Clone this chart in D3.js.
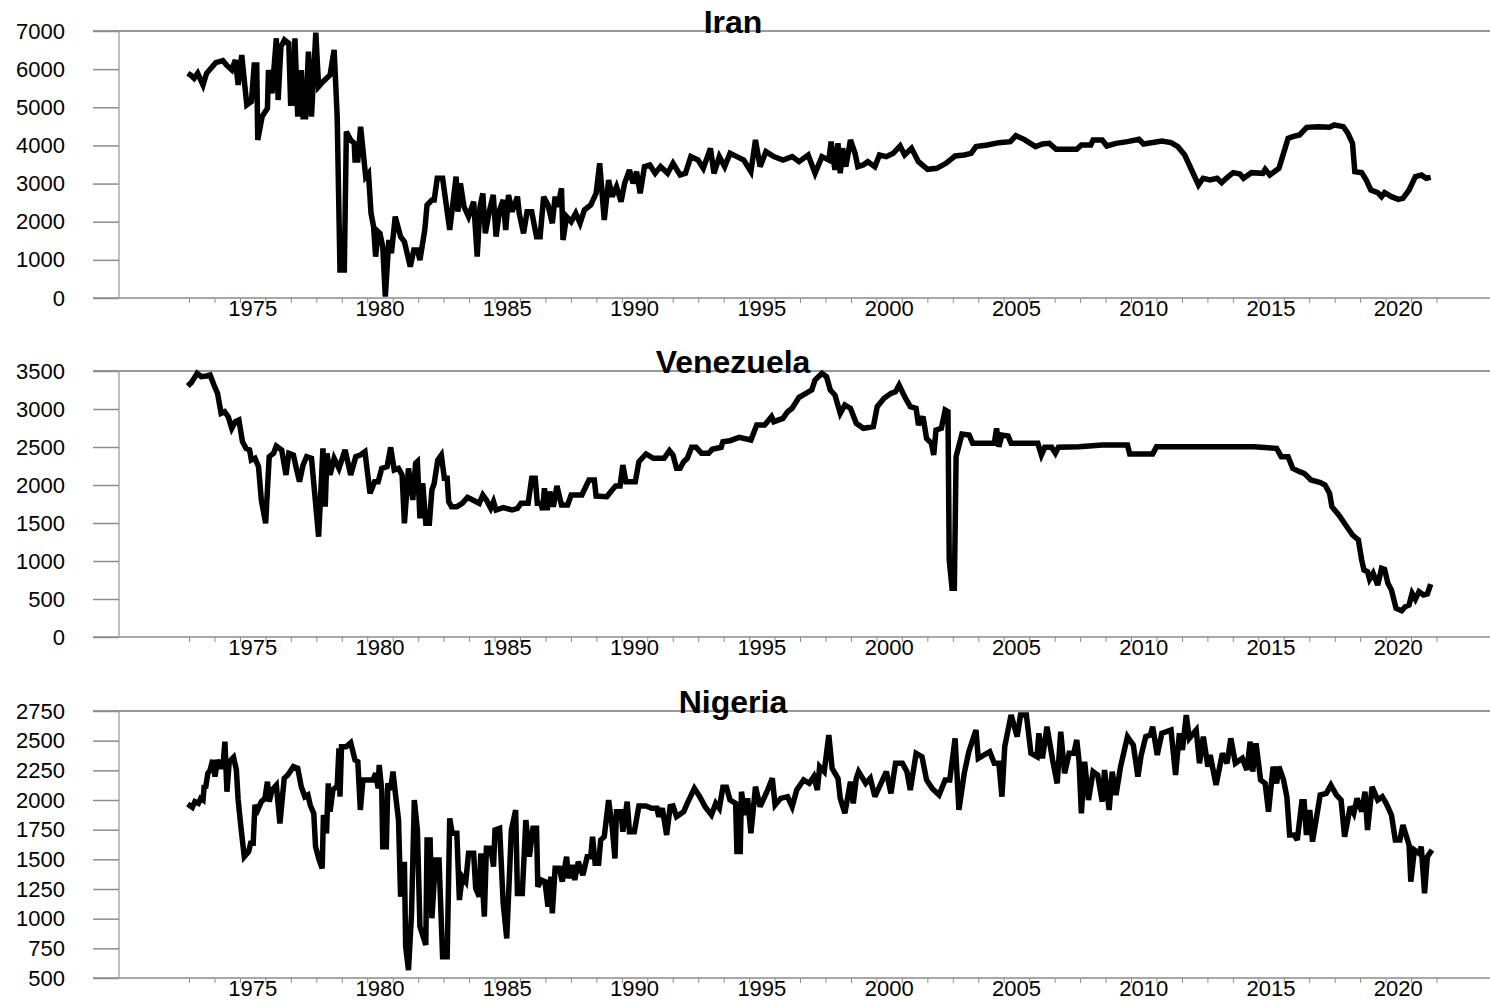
<!DOCTYPE html>
<html>
<head>
<meta charset="utf-8">
<script src="https://cdn.jsdelivr.net/npm/d3@7"></script>
<style>
  body { margin: 0; background: #fff; }
  text { font-family: "Liberation Sans", Arial, sans-serif; }
</style>
</head>
<body>
<svg id="chart" width="1490" height="1001"></svg>
<script>
// values: [decimal year, value]
var iran = [
 [1972.95,5891],[1973.06,5847],[1973.2,5760],[1973.34,5891],[1973.55,5585],[1973.69,5891],[1974.05,6170],
 [1974.33,6223],[1974.47,6109],[1974.68,5978],[1974.82,6240],[1974.93,5585],[1975.07,6371],[1975.27,5060],
 [1975.45,5148],[1975.56,6109],[1975.66,6109],[1975.7,4143],[1975.87,4755],[1976.08,4973],[1976.12,5978],
 [1976.26,5366],[1976.43,6808],[1976.5,5191],[1976.61,6590],[1976.75,6765],[1976.92,6677],[1976.99,5104],
 [1977.1,5104],[1977.16,6808],[1977.27,4755],[1977.41,5978],[1977.48,4755],[1977.58,4755],[1977.69,6459],
 [1977.81,4755],[1977.98,6957],[1978.09,5541],[1978.26,5672],[1978.54,5847],[1978.7,6503],[1978.82,4755],
 [1978.93,734],[1979.1,734],[1979.18,4361],[1979.35,4143],[1979.49,4055],[1979.52,3618],[1979.63,3618],
 [1979.74,4492],[1979.94,3181],[1980.05,3268],[1980.15,2220],[1980.25,1870],[1980.33,1084],[1980.43,1739],
 [1980.5,1696],[1980.61,1346],[1980.71,35],[1980.85,1521],[1980.95,1171],[1981.1,2133],[1981.31,1608],
 [1981.46,1477],[1981.69,822],[1981.83,1259],[1981.97,1259],[1982.07,996],[1982.26,1783],[1982.35,2438],
 [1982.54,2570],[1982.63,2570],[1982.75,3138],[1982.96,3138],[1983.24,1783],[1983.49,3181],[1983.56,2264],
 [1983.66,3006],[1983.8,2395],[1983.98,2133],[1984.18,2526],[1984.32,1084],[1984.43,2395],[1984.54,2744],
 [1984.64,1696],[1984.78,2220],[1984.95,2701],[1985.06,1608],[1985.2,2307],[1985.34,2570],[1985.44,1783],
 [1985.55,2701],[1985.69,2264],[1985.9,2657],[1985.97,2220],[1986.14,1696],[1986.28,2264],[1986.46,2264],
 [1986.65,1608],[1986.79,1608],[1986.93,2657],[1987.1,2438],[1987.27,1958],[1987.38,2657],[1987.49,2395],
 [1987.63,2875],[1987.69,1521],[1987.83,2133],[1988.01,2001],[1988.19,2220],[1988.36,1958],[1988.53,2307],
 [1988.78,2438],[1988.99,2744],[1989.13,3531],[1989.31,2045],[1989.48,3094],[1989.62,2657],[1989.79,2919],
 [1989.97,2526],[1990.11,3006],[1990.3,3356],[1990.44,3006],[1990.58,3312],[1990.72,2744],[1990.89,3444],
 [1991.1,3487],[1991.31,3268],[1991.52,3444],[1991.8,3268],[1992.01,3531],[1992.29,3225],[1992.5,3268],
 [1992.71,3706],[1992.99,3618],[1993.2,3400],[1993.48,3924],[1993.62,3268],[1993.83,3706],[1994.04,3444],
 [1994.25,3793],[1994.52,3706],[1994.79,3618],[1995.07,3312],[1995.25,4143],[1995.43,3444],[1995.66,3837],
 [1995.97,3706],[1996.33,3618],[1996.69,3706],[1996.96,3575],[1997.32,3749],[1997.59,3268],[1997.86,3706],
 [1998.13,3618],[1998.22,4099],[1998.37,3356],[1998.49,4055],[1998.58,3268],[1998.67,3924],[1998.8,3444],
 [1998.98,4143],[1999.16,3793],[1999.27,3444],[1999.48,3487],[1999.66,3575],[1999.94,3444],[2000.12,3749],
 [2000.39,3706],[2000.66,3793],[2000.93,3985],[2001.11,3749],[2001.38,3924],[2001.65,3575],[2002.01,3374],
 [2002.37,3400],[2002.73,3531],[2003.09,3723],[2003.45,3749],[2003.72,3793],[2003.91,3968],[2004.36,4012],
 [2004.81,4073],[2005.26,4099],[2005.48,4256],[2005.8,4160],[2006.25,3968],[2006.52,4038],[2006.79,4055],
 [2007.06,3898],[2007.87,3898],[2008.05,4012],[2008.42,4012],[2008.51,4143],[2008.87,4143],[2009.05,3985],
 [2009.41,4055],[2009.86,4099],[2010.31,4160],[2010.49,4038],[2011.21,4117],[2011.57,4073],[2011.84,3968],
 [2012.11,3749],[2012.29,3487],[2012.47,3225],[2012.65,2963],[2012.83,3138],[2013.1,3094],[2013.38,3138],
 [2013.56,3024],[2013.74,3138],[2014.01,3286],[2014.28,3251],[2014.42,3138],[2014.73,3286],[2015.18,3268],
 [2015.27,3374],[2015.45,3225],[2015.81,3400],[2015.99,3793],[2016.17,4186],[2016.35,4230],[2016.62,4274],
 [2016.9,4475],[2017.35,4492],[2017.8,4475],[2017.98,4536],[2018.34,4492],[2018.52,4318],[2018.7,4055],
 [2018.79,3312],[2019.06,3286],[2019.24,3094],[2019.42,2832],[2019.69,2762],[2019.84,2657],[2019.96,2762],
 [2020.23,2657],[2020.5,2587],[2020.68,2613],[2020.92,2832],[2021.17,3181],[2021.41,3225],[2021.59,3138],
 [2021.77,3164]
];

var venezuela = [
 [1972.95,3303],[1973.09,3347],[1973.32,3469],[1973.48,3425],[1973.69,3434],[1973.83,3447],[1973.98,3316],
 [1974.12,3206],[1974.26,2943],[1974.4,2965],[1974.54,2899],[1974.68,2746],[1974.82,2833],[1974.96,2855],
 [1975.1,2570],[1975.24,2482],[1975.38,2461],[1975.45,2329],[1975.59,2351],[1975.73,2241],[1975.84,1803],
 [1976.01,1496],[1976.15,2373],[1976.32,2417],[1976.43,2513],[1976.64,2461],[1976.81,2132],[1976.92,2417],
 [1977.1,2395],[1977.2,2241],[1977.34,2044],[1977.48,2263],[1977.62,2373],[1977.81,2351],[1977.9,2022],
 [1978.09,1320],[1978.26,2482],[1978.35,1715],[1978.42,2417],[1978.54,2132],[1978.7,2351],[1978.89,2219],
 [1979.13,2461],[1979.35,2132],[1979.55,2373],[1979.73,2395],[1979.91,2439],[1980.11,1890],[1980.29,2044],
 [1980.43,2044],[1980.57,2219],[1980.78,2241],[1980.92,2496],[1981.06,2197],[1981.23,2219],[1981.37,2132],
 [1981.46,1496],[1981.62,2219],[1981.79,1803],[1981.9,2285],[1981.97,2307],[1982.07,1561],[1982.18,2022],
 [1982.3,1496],[1982.44,1496],[1982.54,1934],[1982.63,2022],[1982.77,2329],[1982.91,2395],[1983.03,2088],
 [1983.14,2088],[1983.2,1781],[1983.31,1715],[1983.52,1715],[1983.73,1759],[1983.94,1838],[1984.15,1803],
 [1984.4,1759],[1984.54,1868],[1984.68,1803],[1984.85,1693],[1984.96,1781],[1985.06,1671],[1985.34,1702],
 [1985.69,1671],[1985.9,1693],[1986.04,1759],[1986.32,1759],[1986.46,2088],[1986.6,2088],[1986.68,1759],
 [1986.82,1759],[1986.89,1671],[1986.96,1956],[1987.07,1671],[1987.17,1912],[1987.31,1715],[1987.45,1987],
 [1987.63,1737],[1987.87,1737],[1988.01,1868],[1988.43,1868],[1988.71,2066],[1988.92,2066],[1988.99,1855],
 [1989.41,1847],[1989.62,1934],[1989.76,1987],[1989.93,1987],[1990.04,2263],[1990.16,2044],[1990.53,2044],
 [1990.67,2307],[1990.95,2408],[1991.24,2351],[1991.66,2351],[1991.87,2452],[1992.01,2395],[1992.15,2219],
 [1992.29,2219],[1992.43,2307],[1992.57,2351],[1992.74,2496],[1992.92,2496],[1993.13,2417],[1993.41,2417],
 [1993.55,2469],[1993.9,2496],[1993.97,2570],[1994.25,2583],[1994.61,2627],[1995.07,2592],[1995.3,2789],
 [1995.61,2789],[1995.88,2899],[1995.97,2833],[1996.33,2877],[1996.51,2965],[1996.69,3009],[1996.96,3154],
 [1997.23,3206],[1997.46,3250],[1997.59,3382],[1997.86,3469],[1998.04,3425],[1998.19,3250],[1998.37,3184],
 [1998.58,2943],[1998.76,3053],[1998.98,3009],[1999.21,2811],[1999.49,2746],[1999.88,2768],[2000.03,3031],
 [2000.3,3140],[2000.57,3206],[2000.75,3228],[2000.89,3316],[2001.11,3162],[2001.33,3031],[2001.56,3009],
 [2001.65,2789],[2001.83,2899],[2001.97,2614],[2002.16,2548],[2002.25,2395],[2002.34,2724],[2002.55,2746],
 [2002.7,2987],[2002.81,2965],[2002.86,1013],[2002.97,640],[2003.06,640],[2003.13,2373],[2003.36,2671],
 [2003.64,2658],[2003.78,2548],[2004.63,2548],[2004.72,2746],[2004.81,2504],[2004.93,2658],[2005.17,2645],
 [2005.29,2548],[2006.34,2548],[2006.48,2395],[2006.61,2496],[2006.88,2496],[2007.03,2417],[2007.15,2496],
 [2007.96,2504],[2008.87,2526],[2009.86,2526],[2009.95,2408],[2010.85,2408],[2011.0,2504],[2012.29,2504],
 [2014.82,2504],[2015.72,2482],[2015.9,2373],[2016.17,2373],[2016.35,2219],[2016.62,2175],[2016.8,2154],
 [2017.07,2066],[2017.44,2031],[2017.62,2000],[2017.8,1890],[2017.89,1715],[2018.16,1605],[2018.43,1474],
 [2018.7,1342],[2018.93,1276],[2019.06,1013],[2019.15,882],[2019.29,860],[2019.37,759],[2019.51,838],
 [2019.69,684],[2019.84,904],[2019.96,890],[2020.09,706],[2020.23,618],[2020.41,377],[2020.63,346],
 [2020.77,399],[2020.92,421],[2021.04,575],[2021.17,496],[2021.31,596],[2021.49,553],[2021.64,566],
 [2021.77,697]
];

var nigeria = [
 [1972.95,1966],[1973.13,1938],[1973.23,1986],[1973.37,1972],[1973.46,2014],[1973.55,2000],[1973.6,2126],
 [1973.65,2098],[1973.74,2225],[1973.83,2253],[1973.93,2337],[1974.02,2197],[1974.12,2337],[1974.21,2281],
 [1974.33,2281],[1974.41,2492],[1974.49,2070],[1974.58,2323],[1974.75,2360],[1974.86,2253],[1974.93,2000],
 [1975.03,1789],[1975.17,1522],[1975.34,1565],[1975.42,1635],[1975.52,1635],[1975.59,1958],[1975.7,1916],
 [1975.84,1986],[1975.98,2014],[1976.08,2154],[1976.15,1986],[1976.26,2084],[1976.43,2126],[1976.57,1803],
 [1976.74,2183],[1976.88,2211],[1977.1,2281],[1977.27,2267],[1977.41,2112],[1977.55,2028],[1977.67,2042],
 [1977.76,1958],[1977.9,1888],[1977.97,1607],[1978.11,1494],[1978.23,1424],[1978.28,1874],[1978.4,1719],
 [1978.47,2140],[1978.54,1902],[1978.65,2084],[1978.82,2118],[1978.89,2435],[1978.93,2028],[1978.99,2449],
 [1979.17,2449],[1979.35,2483],[1979.52,2337],[1979.63,2323],[1979.73,1916],[1979.83,2169],[1980.22,2169],
 [1980.33,2225],[1980.43,2098],[1980.47,2295],[1980.57,2084],[1980.61,1607],[1980.75,1607],[1980.81,2140],
 [1980.92,2084],[1981.01,2239],[1981.12,2028],[1981.23,1831],[1981.31,1185],[1981.46,1480],[1981.51,764],
 [1981.62,567],[1981.74,1045],[1981.85,2000],[1981.97,1747],[1982.07,933],[1982.3,778],[1982.35,1663],
 [1982.47,1663],[1982.54,1003],[1982.68,1494],[1982.82,1494],[1982.96,680],[1983.14,680],[1983.24,1845],
 [1983.34,1719],[1983.52,1719],[1983.62,1157],[1983.73,1354],[1983.87,1312],[1983.98,1551],[1984.18,1551],
 [1984.26,1256],[1984.4,1185],[1984.46,1551],[1984.6,1017],[1984.68,1593],[1984.85,1593],[1984.96,1438],
 [1985.02,1747],[1985.2,1761],[1985.34,1129],[1985.48,834],[1985.66,1747],[1985.83,1916],[1985.9,1213],
 [1986.09,1213],[1986.23,1831],[1986.37,1522],[1986.51,1761],[1986.65,1761],[1986.7,1270],[1986.84,1326],
 [1986.98,1312],[1987.1,1101],[1987.21,1354],[1987.27,1045],[1987.38,1424],[1987.55,1424],[1987.66,1312],
 [1987.83,1522],[1987.91,1340],[1988.05,1452],[1988.15,1326],[1988.29,1480],[1988.47,1368],[1988.64,1522],
 [1988.78,1522],[1988.85,1691],[1988.95,1466],[1989.09,1466],[1989.17,1663],[1989.31,1691],[1989.48,2000],
 [1989.62,1775],[1989.73,1508],[1989.79,1902],[1989.97,1902],[1990.04,1733],[1990.21,1986],[1990.3,1733],
 [1990.49,1733],[1990.67,1949],[1990.95,1949],[1991.17,1930],[1991.38,1930],[1991.45,1860],[1991.59,1930],
 [1991.76,1705],[1991.9,1944],[1992.01,1949],[1992.15,1860],[1992.43,1902],[1992.57,1972],[1992.85,2098],
 [1993.06,2028],[1993.27,1944],[1993.52,1874],[1993.69,1972],[1993.83,1930],[1993.97,2107],[1994.11,2107],
 [1994.25,2000],[1994.47,1972],[1994.52,1565],[1994.65,1565],[1994.7,2070],[1994.83,1874],[1994.94,2014],
 [1995.07,1719],[1995.25,2112],[1995.43,1944],[1995.7,2070],[1995.91,2183],[1996.02,1958],[1996.24,2014],
 [1996.51,2028],[1996.69,1944],[1996.87,2084],[1997.14,2169],[1997.36,2140],[1997.54,2197],[1997.68,2084],
 [1997.77,2281],[1997.95,2239],[1998.13,2548],[1998.26,2267],[1998.49,2183],[1998.58,2014],[1998.76,1888],
 [1998.98,2154],[1999.09,1972],[1999.21,2183],[1999.3,2239],[1999.58,2140],[1999.76,2183],[1999.94,2028],
 [2000.21,2154],[2000.39,2239],[2000.57,2056],[2000.75,2309],[2001.02,2309],[2001.2,2239],[2001.33,2084],
 [2001.56,2393],[2001.79,2365],[2001.97,2169],[2002.19,2098],[2002.46,2042],[2002.7,2169],[2002.88,2169],
 [2003.09,2520],[2003.24,1916],[2003.45,2225],[2003.63,2407],[2003.91,2590],[2004.0,2351],[2004.45,2407],
 [2004.63,2309],[2004.81,2309],[2004.93,2028],[2005.04,2449],[2005.17,2590],[2005.29,2716],[2005.53,2534],
 [2005.66,2716],[2005.89,2716],[2006.07,2393],[2006.31,2365],[2006.38,2562],[2006.52,2351],[2006.7,2618],
 [2006.92,2337],[2007.1,2140],[2007.24,2576],[2007.39,2225],[2007.57,2393],[2007.75,2393],[2007.87,2506],
 [2007.96,2323],[2008.05,1888],[2008.18,2323],[2008.33,2000],[2008.51,2239],[2008.69,2211],[2008.87,1986],
 [2008.96,2253],[2009.14,1916],[2009.26,2239],[2009.41,2042],[2009.59,2281],[2009.86,2534],[2010.09,2463],
 [2010.27,2197],[2010.4,2379],[2010.58,2534],[2010.76,2548],[2010.85,2618],[2011.03,2379],[2011.21,2562],
 [2011.57,2590],[2011.75,2211],[2011.9,2562],[2012.02,2421],[2012.17,2716],[2012.29,2520],[2012.56,2590],
 [2012.69,2309],[2012.84,2534],[2013.02,2281],[2013.11,2379],[2013.34,2126],[2013.59,2393],[2013.77,2309],
 [2013.92,2520],[2014.1,2309],[2014.37,2351],[2014.55,2253],[2014.68,2492],[2014.78,2239],[2014.91,2477],
 [2015.09,2169],[2015.27,2140],[2015.4,1902],[2015.58,2281],[2015.72,2140],[2015.81,2281],[2015.99,2169],
 [2016.12,2028],[2016.23,1705],[2016.41,1705],[2016.53,1663],[2016.71,1986],[2016.8,1986],[2016.89,1705],
 [2017.02,1916],[2017.13,1649],[2017.43,2042],[2017.67,2056],[2017.85,2126],[2018.07,2042],[2018.25,2000],
 [2018.39,1691],[2018.61,1944],[2018.75,1888],[2018.88,2014],[2019.06,1902],[2019.19,2070],[2019.29,1747],
 [2019.47,2112],[2019.69,2000],[2019.87,2028],[2020.02,1972],[2020.23,1874],[2020.38,1663],[2020.56,1663],
 [2020.68,1789],[2020.92,1621],[2020.99,1312],[2021.13,1579],[2021.31,1551],[2021.4,1607],[2021.53,1213],
 [2021.64,1522],[2021.82,1579]
];

var yearLabels = [1975, 1980, 1985, 1990, 1995, 2000, 2005, 2010, 2015, 2020];
var yearTicks = d3.range(1973, 2023);

var panels = [
  { name: 'Iran',      data: iran,      ticks: [0,1000,2000,3000,4000,5000,6000,7000], top: 31,  bottom: 298 },
  { name: 'Venezuela', data: venezuela, ticks: [0,500,1000,1500,2000,2500,3000,3500],  top: 371, bottom: 637 },
  { name: 'Nigeria',   data: nigeria,   ticks: [500,750,1000,1250,1500,1750,2000,2250,2500,2750], top: 711, bottom: 978 }
];

var svg = d3.select('#chart');
var axisColor = '#8c8c8c';
var x = d3.scaleLinear().domain([1970.25, 2024.1]).range([119, 1490]);

panels.forEach(function(p){
  var y = d3.scaleLinear()
    .domain([p.ticks[0], p.ticks[p.ticks.length-1]])
    .range([p.bottom, p.top]);
  var g = svg.append('g');

  // frame lines: top and bottom across the full width, left axis
  g.append('line').attr('x1',93).attr('x2',1490).attr('y1',p.top).attr('y2',p.top)
    .attr('stroke','#777').attr('stroke-width',1.5);
  g.append('line').attr('x1',93).attr('x2',1490).attr('y1',p.bottom).attr('y2',p.bottom)
    .attr('stroke',axisColor).attr('stroke-width',1.5);
  g.append('line').attr('x1',119).attr('x2',119).attr('y1',p.top).attr('y2',p.bottom)
    .attr('stroke','#aaa').attr('stroke-width',1.5);

  var yAxis = g.append('g')
    .attr('transform','translate(119,0)')
    .call(d3.axisLeft(y).tickValues(p.ticks).tickSize(26).tickPadding(28).tickFormat(d3.format('d')));
  yAxis.select('.domain').remove();
  yAxis.selectAll('line').attr('stroke',axisColor).attr('stroke-width',1.5);
  yAxis.selectAll('text').attr('fill','#000').style('font-size','22px')
    .style('font-family','"Liberation Sans", Arial, sans-serif');

  var xAxis = g.append('g')
    .attr('transform','translate(0,' + p.bottom + ')')
    .call(d3.axisBottom(x).tickValues(yearTicks).tickSize(5).tickFormat(''));
  xAxis.select('.domain').remove();
  xAxis.selectAll('line').attr('stroke',axisColor).attr('stroke-width',1);

  g.selectAll('.yearLabel')
    .data(yearLabels)
    .enter().append('text')
      .attr('class','yearLabel')
      .attr('x',function(d){return x(d + 0.5);})
      .attr('y',p.bottom + 18)
      .attr('text-anchor','middle')
      .style('font-size','22px')
      .text(function(d){return d;});

  var line = d3.line()
    .x(function(d){return x(d[0]);})
    .y(function(d){return y(d[1]);});
  g.append('path')
    .datum(p.data)
    .attr('d',line)
    .attr('fill','none')
    .attr('stroke','#000')
    .attr('stroke-width',5.5)
    .attr('stroke-linejoin','miter')
    .attr('stroke-miterlimit',3);

  g.append('text')
    .attr('x',733)
    .attr('y',p.top + 2)
    .attr('text-anchor','middle')
    .style('font-size','32px')
    .style('font-weight','bold')
    .text(p.name);
});
</script>
</body>
</html>
